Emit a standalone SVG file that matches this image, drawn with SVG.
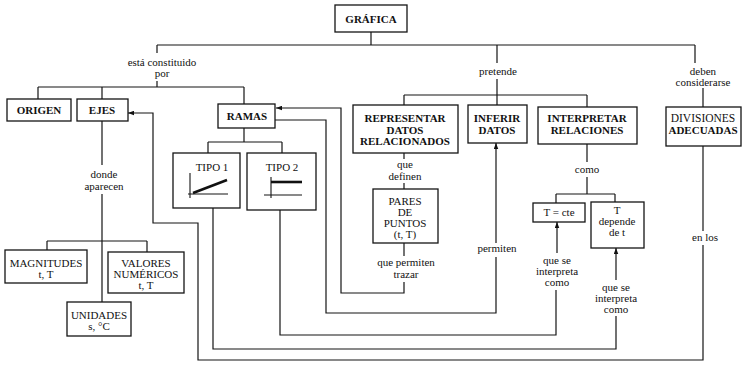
<svg xmlns="http://www.w3.org/2000/svg" width="743" height="368" viewBox="0 0 743 368">
  <defs>
    <style>
      .box{fill:#fff;stroke:#151515;stroke-width:1.3}
      .ln{fill:none;stroke:#151515;stroke-width:1.2}
      .t{font-family:"Liberation Serif","Times New Roman",serif;font-size:11px;text-anchor:middle;fill:#111}
      .b{font-weight:bold}
      .plot{fill:none;stroke:#151515;stroke-width:1.1}
      .thick{fill:none;stroke:#111;stroke-width:2.6}
    </style>
    <marker id="arr" viewBox="0 0 8 6" refX="8" refY="3" markerWidth="6" markerHeight="5" markerUnits="userSpaceOnUse" orient="auto">
      <path d="M0,0L8,3L0,6z" fill="#111"/>
    </marker>
  </defs>
  <rect width="743" height="368" fill="#fff"/>

  <!-- connectors -->
  <g id="connectors">
    <path class="ln" d="M371,32V45M157,45H695"/>
    <!-- está constituido por -->
    <path class="ln" d="M157,45V53M157,81V87M38,87H244M38,87V99M102,87V99M244,87V104"/>
    <!-- pretende -->
    <path class="ln" d="M497,45V63M497,79V105M404,95H587M404,95V105M587,95V107"/>
    <!-- deben considerarse -->
    <path class="ln" d="M695,45V63M703,88V107"/>
    <!-- EJES: donde aparecen -->
    <path class="ln" d="M102,121V165M102,194V241M47,241H147M47,241V250M147,241V252M102,241V302"/>
    <!-- RAMAS to types -->
    <path class="ln" d="M244,128V142M208,142H282M208,142V153M282,142V153"/>
    <!-- que definen -->
    <path class="ln" d="M404,153V159M404,183V189"/>
    <!-- que permiten trazar -->
    <path class="ln" d="M404,243V256"/>
    <path class="ln" d="M404,282V293H341V108H276" marker-end="url(#arr)"/>
    <!-- permiten -->
    <path class="ln" d="M275,120H326V313H496V257"/>
    <path class="ln" d="M496,243V143" marker-end="url(#arr)"/>
    <!-- como -->
    <path class="ln" d="M587,144V162M587,177V194M556,194H615M556,194V203M615,194V202"/>
    <!-- TIPO 2: que se interpreta como -->
    <path class="ln" d="M280,210V335H556V290"/>
    <path class="ln" d="M557,253V222" marker-end="url(#arr)"/>
    <!-- TIPO 1: que se interpreta como -->
    <path class="ln" d="M213,208V349H616V316"/>
    <path class="ln" d="M616,280V248" marker-end="url(#arr)"/>
    <!-- en los -->
    <path class="ln" d="M703,146V231"/>
    <path class="ln" d="M703,245V360H198V223H153V113H128" marker-end="url(#arr)"/>

    <g id="link-labels" class="t">
      <text x="162" y="66">está constituido</text>
      <text x="162" y="77">por</text>
      <text x="498" y="75">pretende</text>
      <text x="703" y="75">deben</text>
      <text x="703" y="86">considerarse</text>
      <text x="104" y="178">donde</text>
      <text x="104" y="190">aparecen</text>
      <text x="405" y="168">que</text>
      <text x="405" y="180">definen</text>
      <text x="406" y="266">que permiten</text>
      <text x="406" y="278">trazar</text>
      <text x="497" y="252">permiten</text>
      <text x="587" y="173">como</text>
      <text x="557" y="264">que se</text>
      <text x="557" y="275">interpreta</text>
      <text x="557" y="286">como</text>
      <text x="616" y="291">que se</text>
      <text x="616" y="302">interpreta</text>
      <text x="616" y="313">como</text>
      <text x="705" y="241">en los</text>
    </g>
  </g>

  <!-- nodes -->
  <g id="grafica">
    <rect class="box" x="335" y="5" width="72" height="27"/>
    <text class="t b" x="371" y="23">GRÁFICA</text>
  </g>
  <g id="origen">
    <rect class="box" x="7" y="99" width="64" height="22"/>
    <text class="t b" x="39" y="114">ORIGEN</text>
  </g>
  <g id="ejes">
    <rect class="box" x="77" y="99" width="51" height="22"/>
    <text class="t b" x="102" y="114">EJES</text>
  </g>
  <g id="ramas">
    <rect class="box" x="218" y="104" width="57" height="24"/>
    <text class="t b" x="247" y="120">RAMAS</text>
  </g>
  <g id="representar">
    <rect class="box" x="353" y="105" width="105" height="48"/>
    <text class="t b" x="405" y="122">REPRESENTAR</text>
    <text class="t b" x="405" y="133.5">DATOS</text>
    <text class="t b" x="405" y="145">RELACIONADOS</text>
  </g>
  <g id="inferir">
    <rect class="box" x="468" y="105" width="59" height="38"/>
    <text class="t b" x="497" y="122">INFERIR</text>
    <text class="t b" x="497" y="134">DATOS</text>
  </g>
  <g id="interpretar">
    <rect class="box" x="538" y="107" width="99" height="37"/>
    <text class="t b" x="587" y="122">INTERPRETAR</text>
    <text class="t b" x="587" y="134">RELACIONES</text>
  </g>
  <g id="divisiones">
    <rect class="box" x="666" y="107" width="75" height="39"/>
    <text class="t" x="703" y="122" style="font-size:11.5px">DIVISIONES</text>
    <text class="t b" x="703" y="134" style="font-size:11px">ADECUADAS</text>
  </g>
  <g id="tipo1">
    <rect class="box" x="173" y="153" width="67" height="55"/>
    <text class="t" x="212" y="171">TIPO 1</text>
    <path class="plot" d="M190,173V198M188,194H228"/>
    <path class="thick" d="M193,193L227,180"/>
  </g>
  <g id="tipo2">
    <rect class="box" x="247" y="153" width="69" height="57"/>
    <text class="t" x="282" y="171">TIPO 2</text>
    <path class="plot" d="M271,177V198M264,195H302"/>
    <path class="thick" d="M271,182H302"/>
  </g>
  <g id="pares">
    <rect class="box" x="373" y="189" width="65" height="54"/>
    <text class="t" x="405" y="205">PARES</text>
    <text class="t" x="405" y="216">DE</text>
    <text class="t" x="405" y="227">PUNTOS</text>
    <text class="t" x="405" y="238">(t, T)</text>
  </g>
  <g id="t-cte">
    <rect class="box" x="533" y="203" width="52" height="19"/>
    <text class="t" x="559" y="216">T = cte</text>
  </g>
  <g id="t-depende">
    <rect class="box" x="591" y="202" width="53" height="46"/>
    <text class="t" x="617" y="214">T</text>
    <text class="t" x="617" y="225">depende</text>
    <text class="t" x="617" y="236">de t</text>
  </g>
  <g id="magnitudes">
    <rect class="box" x="5" y="250" width="82" height="33"/>
    <text class="t" x="46" y="267">MAGNITUDES</text>
    <text class="t" x="46" y="278">t, T</text>
  </g>
  <g id="valores">
    <rect class="box" x="108" y="252" width="76" height="41"/>
    <text class="t" x="146" y="267">VALORES</text>
    <text class="t" x="146" y="278">NUMÉRICOS</text>
    <text class="t" x="146" y="289">t, T</text>
  </g>
  <g id="unidades">
    <rect class="box" x="67" y="302" width="64" height="34"/>
    <text class="t" x="99" y="319">UNIDADES</text>
    <text class="t" x="99" y="330">s, °C</text>
  </g>
</svg>
